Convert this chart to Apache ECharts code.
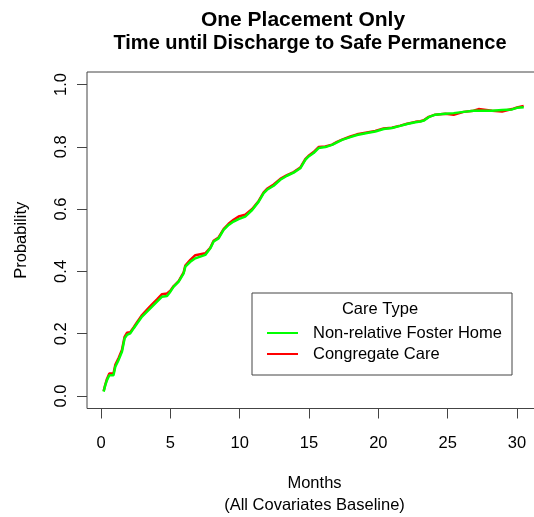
<!DOCTYPE html>
<html>
<head>
<meta charset="utf-8">
<script src="https://cdn.jsdelivr.net/npm/echarts@6/dist/echarts.min.js"></script>
<style>
  html, body { margin: 0; padding: 0; background: #fff; }
  #main { width: 534px; height: 517px; }
</style>
</head>
<body>
<div id="main"></div>
<script>
// months (shared by both curves)
var months = [0.19, 0.31, 0.43, 0.60, 0.90, 1.03, 1.27, 1.51, 1.70, 1.87, 2.11, 2.35, 2.60, 2.96, 3.32,
  3.68, 4.04, 4.40, 4.76, 5.00, 5.24, 5.60, 5.96, 6.08, 6.44, 6.80, 7.52, 7.88, 8.12, 8.48, 8.84,
  9.20, 9.56, 9.92, 10.40, 10.90, 11.37, 11.73, 11.97, 12.45, 12.93, 13.41, 13.89, 14.37, 14.73,
  14.97, 15.33, 15.69, 16.18, 16.66, 17.02, 17.38, 17.98, 18.46, 19.18, 19.78, 20.38, 20.98, 21.58,
  22.07, 22.67, 23.03, 23.27, 23.63, 24.10, 24.83, 25.43, 26.15, 26.87, 27.23, 28.20, 28.92, 29.64,
  30.00, 30.48];
// Non-relative Foster Home
var fosterProb = [0.014, 0.035, 0.051, 0.067, 0.067, 0.094, 0.116, 0.142, 0.185, 0.196, 0.201, 0.217, 0.233, 0.255, 0.271,
  0.287, 0.303, 0.319, 0.321, 0.335, 0.351, 0.367, 0.394, 0.415, 0.431, 0.442, 0.453, 0.474, 0.496, 0.506, 0.533,
  0.549, 0.560, 0.568, 0.576, 0.597, 0.624, 0.651, 0.662, 0.675, 0.694, 0.707, 0.717, 0.731, 0.758,
  0.769, 0.780, 0.796, 0.799, 0.806, 0.814, 0.822, 0.831, 0.838, 0.844, 0.849, 0.857, 0.860, 0.867,
  0.873, 0.879, 0.881, 0.884, 0.895, 0.903, 0.906, 0.908, 0.912, 0.916, 0.916, 0.916, 0.918, 0.920,
  0.925, 0.927];
// Congregate Care
var congregateProb = [0.016, 0.037, 0.055, 0.072, 0.072, 0.100, 0.122, 0.148, 0.190, 0.203, 0.205, 0.220, 0.237, 0.260, 0.277,
  0.294, 0.310, 0.327, 0.329, 0.338, 0.353, 0.369, 0.397, 0.419, 0.437, 0.452, 0.458, 0.476, 0.498, 0.509, 0.536,
  0.553, 0.566, 0.576, 0.582, 0.600, 0.626, 0.654, 0.665, 0.679, 0.697, 0.709, 0.719, 0.733, 0.760,
  0.771, 0.783, 0.799, 0.801, 0.807, 0.816, 0.823, 0.833, 0.840, 0.846, 0.851, 0.859, 0.861, 0.868,
  0.874, 0.880, 0.882, 0.885, 0.896, 0.903, 0.906, 0.903, 0.912, 0.916, 0.921, 0.916, 0.913, 0.921,
  0.926, 0.931];
var xTicks = [0, 5, 10, 15, 20, 25, 30];
var yTicks = [0, 0.2, 0.4, 0.6, 0.8, 1.0];

function pairs(xs, ys) {
  return xs.map(function (x, i) { return [x, ys[i]]; });
}

var font = 'Liberation Sans, Arial, sans-serif';
var chart = echarts.init(document.getElementById('main'));
chart.setOption({
  animation: false,
  textStyle: { fontFamily: font },
  title: [
    { text: 'One Placement Only', left: 303, top: 10, textAlign: 'center', padding: 0,
      textStyle: { fontFamily: font, fontSize: 21, fontWeight: 'bold', color: '#000' } },
    { text: 'Time until Discharge to Safe Permanence', left: 310, top: 33, textAlign: 'center', padding: 0,
      textStyle: { fontFamily: font, fontSize: 20, fontWeight: 'bold', color: '#000' } }
  ],
  grid: { left: 87, top: 72, width: 455, height: 336.5, outerBoundsMode: 'none', containLabel: false,
    show: true, borderColor: '#444', borderWidth: 1, backgroundColor: 'transparent' },
  xAxis: {
    type: 'value', min: -1.01, max: 31.8,
    name: 'Months\n(All Covariates Baseline)', nameLocation: 'middle', nameGap: 63.5,
    nameTextStyle: { fontFamily: font, fontSize: 16.5, color: '#000', lineHeight: 22 },
    axisLine: { show: false, onZero: false },
    axisTick: { show: true, length: 10, lineStyle: { color: '#444' }, customValues: xTicks },
    axisLabel: { fontFamily: font, fontSize: 16.5, color: '#000', margin: 26, customValues: xTicks },
    splitLine: { show: false }
  },
  yAxis: {
    type: 'value', min: -0.04, max: 1.04,
    name: 'Probability', nameLocation: 'middle', nameRotate: 90, nameGap: 57,
    nameTextStyle: { fontFamily: font, fontSize: 16.5, color: '#000' },
    axisLine: { show: false, onZero: false },
    axisTick: { show: true, length: 10, lineStyle: { color: '#444' }, customValues: yTicks },
    axisLabel: { fontFamily: font, fontSize: 16.5, color: '#000', rotate: 90, margin: 17,
      customValues: yTicks, formatter: function (v) { return v.toFixed(1); } },
    splitLine: { show: false }
  },
  legend: {
    orient: 'vertical', left: 267, top: 324, padding: 0, itemGap: 3,
    itemWidth: 31, itemHeight: 2, icon: 'rect',
    data: ['Non-relative Foster Home', 'Congregate Care'],
    textStyle: { fontFamily: font, fontSize: 16.5, color: '#000', lineHeight: 18, padding: [0, 0, 0, 10] }
  },
  graphic: [
    { type: 'rect', shape: { x: 252, y: 293, width: 260, height: 82 },
      style: { fill: 'none', stroke: '#444', lineWidth: 1 }, z: 1 },
    { type: 'text', x: 380, y: 309,
      style: { text: 'Care Type', font: '16.5px ' + font, fill: '#000', textAlign: 'center', textVerticalAlign: 'middle' } }
  ],
  series: [
    { name: 'Congregate Care', type: 'line', showSymbol: false,
      data: pairs(months, congregateProb), color: '#ff0000', lineStyle: { width: 2.5, color: '#ff0000' }, z: 2 },
    { name: 'Non-relative Foster Home', type: 'line', showSymbol: false,
      data: pairs(months, fosterProb), color: '#00ff00', lineStyle: { width: 2.5, color: '#00ff00' }, z: 3 }
  ]
});
</script>
</body>
</html>
